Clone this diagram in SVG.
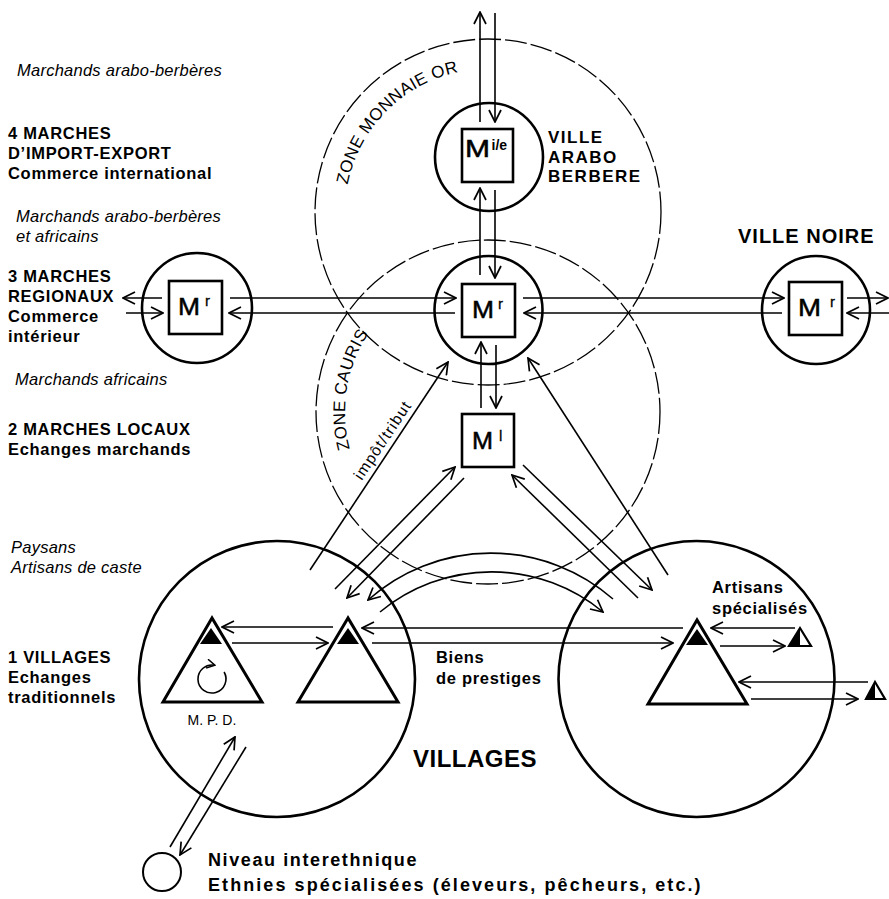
<svg xmlns="http://www.w3.org/2000/svg" width="889" height="899" viewBox="0 0 889 899">
<defs>
<marker id="ah" viewBox="-13 -7 14 14" refX="0" refY="0" markerWidth="14" markerHeight="14" markerUnits="userSpaceOnUse" orient="auto"><path d="M-12,-6 L0,0 L-12,6" fill="none" stroke="#000" stroke-width="1.7"/></marker>
<marker id="ahs" viewBox="-9 -5 10 10" refX="0" refY="0" markerWidth="10" markerHeight="10" markerUnits="userSpaceOnUse" orient="auto"><path d="M-8,-4.5 L0,0 L-8,4.5" fill="none" stroke="#000" stroke-width="1.5"/></marker>
<path id="pMon" d="M347.6,184.7 A143,143 0 0,1 512.8,71.2"/>
<path id="pCau" d="M349.9,449 A143,143 0 0,1 439.1,277.6"/>
</defs>
<style>
text{font-family:"Liberation Sans",Arial,Helvetica,sans-serif;fill:#000}
.b{font-weight:bold;font-size:16.5px;letter-spacing:0.7px}
.i{font-style:italic;font-size:16.5px;letter-spacing:0.25px}
.zone{fill:none;stroke:#000;stroke-width:1.3;stroke-dasharray:22 4}
.zt{font-size:17px;letter-spacing:0.4px}
.ring{fill:none;stroke:#000;stroke-width:2.6}
.box{fill:none;stroke:#000;stroke-width:2.6}
.tri{fill:#fff;stroke:#000;stroke-width:3;stroke-linejoin:miter}
.blk{fill:#000;stroke:none}
.c path{stroke:#000;stroke-width:1.6;fill:none;marker-end:url(#ah)}
.M{font-size:24px;stroke:#000;stroke-width:0.5}
.sup{font-size:15px;stroke:#000;stroke-width:0.3}
.vab{font-weight:bold;font-size:17px;letter-spacing:1.5px}
</style>
<rect width="889" height="899" fill="#fff"/>

<g id="zones">
<circle class="zone" cx="488" cy="212" r="173"/>
<circle class="zone" cx="488" cy="412" r="172"/>
<text class="zt"><textPath href="#pMon">ZONE MONNAIE OR</textPath></text>
<text class="zt"><textPath href="#pCau">ZONE CAURIS</textPath></text>
</g>

<g id="legend">
<text class="i" x="17" y="76">Marchands arabo-berbères</text>
<text class="b" x="8" y="139">4 MARCHES</text>
<text class="b" x="8" y="159">D’IMPORT-EXPORT</text>
<text class="b" x="8" y="179">Commerce international</text>
<text class="i" x="16" y="222">Marchands arabo-berbères</text>
<text class="i" x="16" y="242">et africains</text>
<text class="b" x="8" y="282">3 MARCHES</text>
<text class="b" x="8" y="302">REGIONAUX</text>
<text class="b" x="8" y="322">Commerce</text>
<text class="b" x="8" y="342">intérieur</text>
<text class="i" x="15" y="385">Marchands africains</text>
<text class="b" x="8" y="435">2 MARCHES LOCAUX</text>
<text class="b" x="8" y="455">Echanges marchands</text>
<text class="i" x="11" y="553">Paysans</text>
<text class="i" x="11" y="573">Artisans de caste</text>
<text class="b" x="8" y="663">1 VILLAGES</text>
<text class="b" x="8" y="683">Echanges</text>
<text class="b" x="8" y="703">traditionnels</text>
</g>

<g id="m-ie">
<circle class="ring" cx="489" cy="157" r="54"/>
<rect class="box" x="462" y="129" width="51" height="53"/>
<text class="M" x="465" y="157" textLength="25" lengthAdjust="spacingAndGlyphs">M</text>
<text x="491.5" y="150" font-size="14" font-weight="bold">i/e</text>
</g>
<g id="ville-arabo-berbere">
<text class="vab" x="548" y="143">VILLE</text>
<text class="vab" x="548" y="163">ARABO</text>
<text class="vab" x="548" y="182">BERBERE</text>
</g>

<g id="mr-center">
<circle class="ring" cx="488.5" cy="310" r="54"/>
<rect class="box" x="462" y="284" width="53" height="53"/>
<text class="M" x="472" y="318" textLength="22" lengthAdjust="spacingAndGlyphs">M</text>
<text class="sup" x="498" y="309">r</text>
</g>
<g id="mr-left">
<circle class="ring" cx="197" cy="308" r="55"/>
<rect class="box" x="169" y="281" width="53" height="53"/>
<text class="M" x="178" y="315" textLength="22" lengthAdjust="spacingAndGlyphs">M</text>
<text class="sup" x="205" y="306">r</text>
</g>
<g id="mr-right">
<circle class="ring" cx="816" cy="310" r="54"/>
<rect class="box" x="789" y="282" width="53" height="53"/>
<text class="M" x="798" y="316" textLength="23" lengthAdjust="spacingAndGlyphs">M</text>
<text class="sup" x="830" y="307">r</text>
<text x="738" y="243" font-weight="bold" font-size="20" letter-spacing="1">VILLE NOIRE</text>
</g>
<g id="ml">
<rect class="box" x="462" y="414" width="52" height="53"/>
<text class="M" x="472" y="449" textLength="21" lengthAdjust="spacingAndGlyphs">M</text>
<text class="sup" x="499" y="441">l</text>
</g>

<g id="village-left">
<circle class="ring" cx="277" cy="679" r="138"/>
<polygon class="tri" points="212,618 163,702 262,702"/>
<polygon class="blk" points="211,628 200,644 222,644"/>
<path d="M224.1,672 A14,14 0 1,1 214.9,665.3" fill="none" stroke="#000" stroke-width="1.6" marker-end="url(#ahs)"/>
<text x="212" y="725" font-size="14" text-anchor="middle">M. P. D.</text>
<polygon class="tri" points="348,618 298,702 398,702"/>
<polygon class="blk" points="348,628 337,644 359,644"/>
</g>
<g id="village-right">
<circle class="ring" cx="696.5" cy="679" r="138"/>
<polygon class="tri" points="697,620 648,704 747,704"/>
<polygon class="blk" points="697,629 686,645 708,645"/>
</g>
<g id="artisan-1">
<polygon points="800,628 789,646 811,646" fill="#fff" stroke="#000" stroke-width="2.2"/>
<polygon class="blk" points="800,628 789,646 800,646"/>
</g>
<g id="artisan-2">
<polygon points="875,682 866,699 885,699" fill="#fff" stroke="#000" stroke-width="2.2"/>
<polygon class="blk" points="875,682 866,699 875,699"/>
</g>
<g id="ethnies">
<circle cx="162" cy="872" r="19" fill="none" stroke="#000" stroke-width="2"/>
</g>

<g id="labels">
<text class="b" x="712" y="593" font-size="16">Artisans</text>
<text class="b" x="712" y="614">spécialisés</text>
<text class="b" x="436" y="663">Biens</text>
<text class="b" x="436" y="684">de prestiges</text>
<text x="413" y="767" font-weight="bold" font-size="24" letter-spacing="0.5">VILLAGES</text>
<text x="208" y="866" font-weight="bold" font-size="18" letter-spacing="1.6">Niveau interethnique</text>
<text x="208" y="891" font-weight="bold" font-size="18" letter-spacing="1.4" textLength="494">Ethnies spécialisées (éleveurs, pêcheurs, etc.)</text>
<text x="387" y="443" font-size="15.5" letter-spacing="1.2" text-anchor="middle" transform="rotate(-56.4 387 443)">impôt/tribut</text>
</g>

<g id="connectors" class="c">
<path d="M480,122 V12"/>
<path d="M495,13 V122"/>
<path d="M480,275 V188"/>
<path d="M495,190 V278"/>
<path d="M481,408 V342"/>
<path d="M496,345 V408"/>
<path d="M162,298 H123"/>
<path d="M126,313 H163"/>
<path d="M230,298 H456"/>
<path d="M455,313 H229"/>
<path d="M523,298 H784"/>
<path d="M782,313 H524"/>
<path d="M847,298 H888"/>
<path d="M889,313 H847"/>
<path d="M335,589 L455,467"/>
<path d="M464,478 L347,598"/>
<path d="M523,465 L652,590"/>
<path d="M638,598 L512,475"/>
<path d="M310,570 L448,362"/>
<path d="M668,575 L528,358"/>
<path d="M613,599 A185,185 0 0,0 368,600"/>
<path d="M380,612 A175,175 0 0,1 603,612"/>
<path d="M333,627 H222"/>
<path d="M232,643 H328"/>
<path d="M683,628 H362"/>
<path d="M372,643 H673"/>
<path d="M795,628 H711"/>
<path d="M720,646 H785"/>
<path d="M868,682 H739"/>
<path d="M751,699 H858"/>
<path d="M170,847 L235,737"/>
<path d="M246,747 L180,855"/>
</g>
</svg>
